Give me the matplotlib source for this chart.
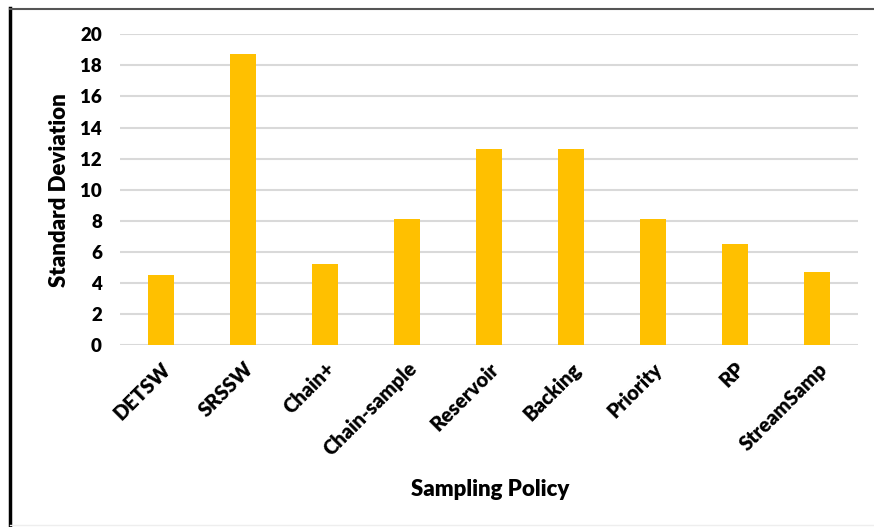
import matplotlib
matplotlib.use("Agg")
import matplotlib.pyplot as plt
from matplotlib.lines import Line2D

categories = ["DETSW", "SRSSW", "Chain+", "Chain-sample", "Reservoir", "Backing", "Priority", "RP", "StreamSamp"]
values = [4.5, 18.7, 5.2, 8.1, 12.6, 12.6, 8.1, 6.5, 4.7]
yticks = [0, 2, 4, 6, 8, 10, 12, 14, 16, 18, 20]

plt.rcParams['font.family'] = ['Lato', 'DejaVu Sans']

W, H = 874, 527
fig = plt.figure(figsize=(W / 100, H / 100), dpi=100)
ax = fig.add_axes([120 / W, 1 - 345 / H, (858 - 120) / W, (345 - 34.3) / H])

x = range(len(categories))
ax.bar(x, values, width=0.31, color="#FFC000", zorder=3)
ax.set_xlim(-0.5, len(categories) - 0.5)
ax.set_ylim(0, 20)
ax.set_yticks(yticks)
ax.set_yticklabels([str(t) for t in yticks], fontsize=13.5, fontweight='heavy')
ax.set_xticks(list(x))
ax.set_xticklabels(categories, fontsize=14.5, fontweight='heavy', rotation=45,
                   ha='right', va='top', rotation_mode='anchor')
ax.tick_params(axis='both', length=0)
ax.tick_params(axis='y', pad=13)
ax.tick_params(axis='x', pad=10)
ax.grid(axis='y', color='#d9d9d9', linewidth=1.5, zorder=0)
for s in ax.spines.values():
    s.set_visible(False)

ax.set_ylabel("Standard Deviation", fontsize=16, fontweight='heavy', labelpad=7)
fig.text(490 / W, 1 - 490 / H, "Sampling Policy", fontsize=16, fontweight='heavy',
         ha='center', va='center')

# outer frame
fig.add_artist(Line2D([10 / W, 10 / W], [0, 1 - 8 / H], color='black', linewidth=2.5,
                      transform=fig.transFigure))
fig.add_artist(Line2D([10 / W, 1], [1 - 8.5 / H, 1 - 8.5 / H], color='#555555', linewidth=1.5,
                      transform=fig.transFigure))
fig.add_artist(Line2D([10 / W, 1], [1 - 525 / H, 1 - 525 / H], color='#eeeeee', linewidth=1,
                      transform=fig.transFigure))

fig.savefig("out.png", dpi=100, facecolor='white')
